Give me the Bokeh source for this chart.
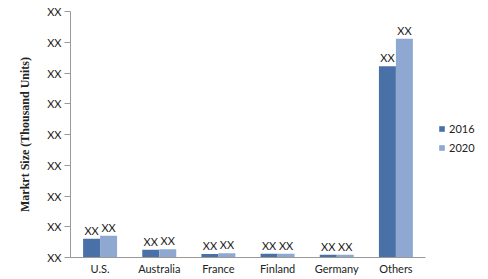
from bokeh.plotting import figure
from bokeh.models import ColumnDataSource, Range1d, FixedTicker, Legend, LegendItem
from bokeh.transform import dodge
from bokeh.core.properties import value
from bokeh.embed import file_html
from bokeh.resources import INLINE

countries = ["U.S.", "Australia", "France", "Finland", "Germany", "Others"]
v2016 = [0.61, 0.25, 0.11, 0.12, 0.09, 6.22]
v2020 = [0.71, 0.27, 0.14, 0.12, 0.09, 7.11]
series_names = ["2016", "2020"]
bar_labels = ["XX"] * len(countries)
y_ticks = list(range(0, 9))
y_tick_label = "XX"

c2016 = "#4a70a8"
c2020 = "#8ea8d1"

xs = list(range(len(countries)))
src = ColumnDataSource(dict(x=xs, v2016=v2016, v2020=v2020, lab=bar_labels))

# category area spans -0.5..5.5; extra room on the right holds the legend
p = figure(frame_width=418, frame_height=246, x_range=Range1d(-0.5, 6.565), y_range=Range1d(0, 8),
           output_backend="svg", toolbar_location=None,
           min_border_left=70, min_border_right=0, min_border_top=11, min_border_bottom=22)
p.outline_line_color = None
p.xgrid.grid_line_color = None
p.ygrid.grid_line_color = None
p.background_fill_color = None
p.border_fill_color = "white"

bw = 0.287
r1 = p.vbar(x=dodge("x", -bw / 2), top="v2016", width=bw, source=src,
            fill_color=c2016, line_color=None)
r2 = p.vbar(x=dodge("x", bw / 2), top="v2020", width=bw, source=src,
            fill_color=c2020, line_color=None)

for col, off in (("v2016", -bw / 2), ("v2020", bw / 2)):
    p.text(x=dodge("x", off), y=col, text="lab", source=src,
           text_align="center", text_baseline="bottom", y_offset=-2,
           text_font=value("Lato"), text_font_size="11px", text_color="#222222")

p.yaxis.ticker = FixedTicker(ticks=y_ticks)
p.yaxis.major_label_overrides = {t: y_tick_label for t in y_ticks}
p.yaxis.minor_tick_line_color = None
p.yaxis.major_tick_in = 0
p.yaxis.major_tick_out = 6
p.yaxis.major_label_standoff = 3
p.yaxis.axis_line_color = "#999999"
p.yaxis.major_tick_line_color = "#999999"
p.yaxis.major_label_text_font = "Lato"
p.yaxis.major_label_text_font_size = "11px"
p.yaxis.major_label_text_color = "#222222"
p.yaxis.axis_label = "Markrt Size (Thousand Units)"
p.yaxis.axis_label_text_font = "Liberation Serif"
p.yaxis.axis_label_text_font_style = "bold"
p.yaxis.axis_label_text_font_size = "12px"
p.yaxis.axis_label_text_color = "#222222"
p.yaxis.axis_label_standoff = 12

p.xaxis.ticker = FixedTicker(ticks=xs)
p.xaxis.major_label_overrides = {i: c for i, c in zip(xs, countries)}
p.xaxis.bounds = (-0.5, len(countries) - 0.5)
p.xaxis.major_tick_line_color = None
p.xaxis.minor_tick_line_color = None
p.xaxis.major_tick_out = 0
p.xaxis.major_label_standoff = 4
p.xaxis.axis_line_color = "#999999"
p.xaxis.major_label_text_font = "Lato"
p.xaxis.major_label_text_font_size = "11px"
p.xaxis.major_label_text_color = "#222222"

legend = Legend(items=[LegendItem(label=series_names[0], renderers=[r1]),
                       LegendItem(label=series_names[1], renderers=[r2])],
                location=(368, 103), border_line_color=None, background_fill_alpha=0,
                glyph_width=7, glyph_height=7, label_height=10, label_standoff=4, spacing=6,
                padding=0, margin=0, label_text_font="Lato", label_text_font_size="11px",
                label_text_color="#222222")
p.add_layout(legend)

open("out.html", "w").write(file_html(p, INLINE))
